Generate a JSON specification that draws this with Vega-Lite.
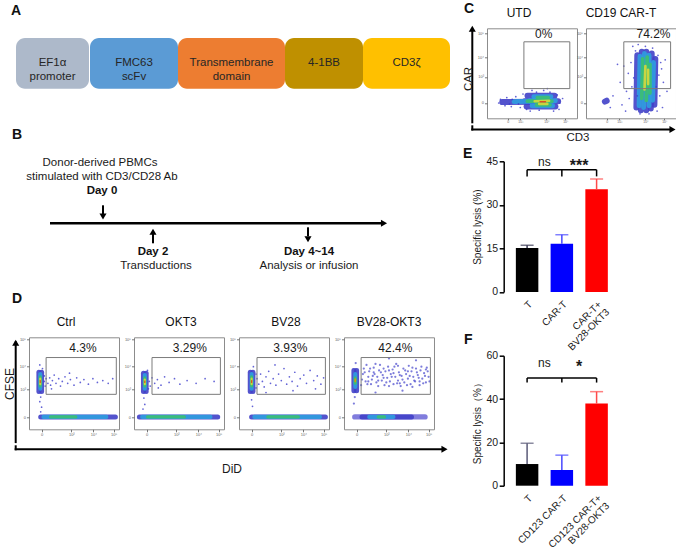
{
"$schema": "https://vega.github.io/schema/vega-lite/v6.json",
"padding": {"left": 0, "top": 1.3, "right": 0, "bottom": 0},
"background": "white",
"config": {"font": "Liberation Sans", "view": {"stroke": null}, "axis": {"grid": false}, "title": {"font": "Liberation Sans", "color": "#111"}},
"datasets": {
"construct": [
{"segment": "EF1α", "label": "EF1α\npromoter", "start": 0, "end": 73, "track": "CAR"},
{"segment": "FMC63", "label": "FMC63\nscFv", "start": 74, "end": 162, "track": "CAR"},
{"segment": "TM", "label": "Transmembrane\ndomain", "start": 162, "end": 269, "track": "CAR"},
{"segment": "4-1BB", "label": "4-1BB", "start": 269, "end": 347, "track": "CAR"},
{"segment": "CD3ζ", "label": "CD3ζ", "start": 347, "end": 434, "track": "CAR"}
],
"tltext": [
{"t": "Donor-derived PBMCs", "x": 100, "y": 15, "b": 0},
{"t": "stimulated with CD3/CD28 Ab", "x": 102, "y": 28.4, "b": 0},
{"t": "Day 0", "x": 102, "y": 42.7, "b": 1},
{"t": "Day 2", "x": 153, "y": 103.4, "b": 1},
{"t": "Transductions", "x": 156, "y": 117.7, "b": 0},
{"t": "Day 4~14", "x": 309, "y": 103.4, "b": 1},
{"t": "Analysis or infusion", "x": 309, "y": 117.7, "b": 0}
],
"seg": [
{"p":"Ctrl","x":13,"y":13.5,"x2":96,"y2":13.5,"d":1},
{"p":"Ctrl","x":16,"y":13.5,"x2":86,"y2":13.5,"d":2},
{"p":"Ctrl","x":24,"y":13.5,"x2":52,"y2":13.5,"d":3},
{"p":"Ctrl","x":11,"y":41,"x2":11,"y2":62,"d":1},
{"p":"Ctrl","x":14,"y":41,"x2":14,"y2":62,"d":1},
{"p":"Ctrl","x":12.5,"y":44,"x2":12.5,"y2":60,"d":2},
{"p":"Ctrl","x":12.5,"y":47,"x2":12.5,"y2":57,"d":3},
{"p":"Ctrl","x":12.5,"y":49,"x2":12.5,"y2":55,"d":4},
{"p":"Ctrl","x":12.5,"y":51,"x2":12.5,"y2":53,"d":5},
{"p":"OKT3","x":6,"y":13.5,"x2":93,"y2":13.5,"d":1},
{"p":"OKT3","x":9,"y":13.5,"x2":85,"y2":13.5,"d":2},
{"p":"OKT3","x":15,"y":13.5,"x2":56,"y2":13.5,"d":3},
{"p":"OKT3","x":10.5,"y":41,"x2":10.5,"y2":61,"d":1},
{"p":"OKT3","x":13.5,"y":41,"x2":13.5,"y2":61,"d":1},
{"p":"OKT3","x":12,"y":44,"x2":12,"y2":59,"d":2},
{"p":"OKT3","x":12,"y":47,"x2":12,"y2":56,"d":3},
{"p":"OKT3","x":12,"y":49,"x2":12,"y2":54,"d":4},
{"p":"OKT3","x":12,"y":51,"x2":12,"y2":52.5,"d":5},
{"p":"BV28","x":14,"y":13.5,"x2":96,"y2":13.5,"d":1},
{"p":"BV28","x":17,"y":13.5,"x2":90,"y2":13.5,"d":2},
{"p":"BV28","x":32,"y":13.5,"x2":66,"y2":13.5,"d":3},
{"p":"BV28","x":12.5,"y":41,"x2":12.5,"y2":62,"d":1},
{"p":"BV28","x":15.5,"y":41,"x2":15.5,"y2":62,"d":1},
{"p":"BV28","x":14,"y":44,"x2":14,"y2":60,"d":2},
{"p":"BV28","x":14,"y":47,"x2":14,"y2":57,"d":3},
{"p":"BV28","x":14,"y":49,"x2":14,"y2":55,"d":4},
{"p":"BV28","x":14,"y":51,"x2":14,"y2":53,"d":5},
{"p":"BVO","x":12,"y":13.5,"x2":90,"y2":13.5,"d":0.6},
{"p":"BVO","x":20,"y":13.5,"x2":75,"y2":13.5,"d":1},
{"p":"BVO","x":28,"y":13.5,"x2":55,"y2":13.5,"d":2},
{"p":"BVO","x":38,"y":13.5,"x2":45,"y2":13.5,"d":3},
{"p":"BVO","x":11,"y":42,"x2":11,"y2":64,"d":1},
{"p":"BVO","x":14,"y":42,"x2":14,"y2":64,"d":1},
{"p":"BVO","x":12.5,"y":46,"x2":12.5,"y2":60,"d":2},
{"p":"BVO","x":12.5,"y":50,"x2":12.5,"y2":56,"d":3},
{"p":"BVO","x":12.5,"y":52,"x2":12.5,"y2":54.5,"d":4.5},
{"p":"UTD","x":17,"y":18,"x2":50,"y2":18.5,"d":1},
{"p":"UTD","x":44,"y":13,"x2":76,"y2":13,"d":1},
{"p":"UTD","x":42,"y":19,"x2":79,"y2":19,"d":1},
{"p":"UTD","x":45,"y":25,"x2":75,"y2":25,"d":1},
{"p":"UTD","x":30,"y":18.5,"x2":48,"y2":19,"d":2},
{"p":"UTD","x":50,"y":14,"x2":73,"y2":14,"d":2},
{"p":"UTD","x":47,"y":19.5,"x2":76,"y2":19.5,"d":2},
{"p":"UTD","x":52,"y":24,"x2":71,"y2":24,"d":2},
{"p":"UTD","x":45,"y":19,"x2":72,"y2":19,"d":3},
{"p":"UTD","x":55,"y":15,"x2":70,"y2":15,"d":3},
{"p":"UTD","x":56,"y":23,"x2":68,"y2":23,"d":3},
{"p":"UTD","x":53,"y":19,"x2":69,"y2":19.5,"d":4},
{"p":"UTD","x":58,"y":16,"x2":67,"y2":16,"d":4},
{"p":"UTD","x":59,"y":18.5,"x2":65,"y2":18.5,"d":5},
{"p":"CD19","x":21,"y":18.5,"x2":23,"y2":19.5,"d":1},
{"p":"CD19","x":56,"y":12,"x2":57,"y2":70,"d":1},
{"p":"CD19","x":61,"y":9,"x2":62,"y2":74,"d":1},
{"p":"CD19","x":67,"y":9,"x2":67,"y2":74,"d":1},
{"p":"CD19","x":72,"y":11,"x2":73,"y2":72,"d":1},
{"p":"CD19","x":76,"y":15,"x2":77,"y2":66,"d":1},
{"p":"CD19","x":59,"y":14,"x2":60,"y2":69,"d":2},
{"p":"CD19","x":64,"y":12,"x2":65,"y2":72,"d":2},
{"p":"CD19","x":70,"y":14,"x2":70,"y2":70,"d":2},
{"p":"CD19","x":74,"y":20,"x2":75,"y2":62,"d":2},
{"p":"CD19","x":62,"y":22,"x2":63,"y2":66,"d":3},
{"p":"CD19","x":67,"y":20,"x2":68,"y2":68,"d":3},
{"p":"CD19","x":71,"y":28,"x2":71,"y2":60,"d":3},
{"p":"CD19","x":65,"y":32,"x2":66,"y2":58,"d":4},
{"p":"CD19","x":69,"y":38,"x2":69,"y2":54,"d":4}
],
"pts": [
{"p":"Ctrl","x":17,"y":52},{"p":"Ctrl","x":18,"y":47},{"p":"Ctrl","x":17,"y":58},{"p":"Ctrl","x":19,"y":55},{"p":"Ctrl","x":21,"y":50},{"p":"Ctrl","x":23,"y":56},{"p":"Ctrl","x":24,"y":48},{"p":"Ctrl","x":26,"y":53},{"p":"Ctrl","x":28,"y":59},{"p":"Ctrl","x":30,"y":50},{"p":"Ctrl","x":33,"y":55},{"p":"Ctrl","x":35,"y":47},{"p":"Ctrl","x":37,"y":52},{"p":"Ctrl","x":40,"y":57},{"p":"Ctrl","x":43,"y":50},{"p":"Ctrl","x":46,"y":54},{"p":"Ctrl","x":50,"y":48},{"p":"Ctrl","x":53,"y":56},{"p":"Ctrl","x":57,"y":51},{"p":"Ctrl","x":61,"y":54},{"p":"Ctrl","x":66,"y":49},{"p":"Ctrl","x":71,"y":55},{"p":"Ctrl","x":76,"y":51},{"p":"Ctrl","x":82,"y":53},{"p":"Ctrl","x":88,"y":50},{"p":"Ctrl","x":93,"y":55},{"p":"Ctrl","x":13,"y":35},{"p":"Ctrl","x":12,"y":30},{"p":"Ctrl","x":14,"y":24},{"p":"Ctrl","x":13,"y":19},{"p":"Ctrl","x":15,"y":66},{"p":"Ctrl","x":12,"y":70},{"p":"Ctrl","x":25,"y":44},{"p":"Ctrl","x":45,"y":61},
{"p":"OKT3","x":17,"y":52},{"p":"OKT3","x":18,"y":47},{"p":"OKT3","x":20,"y":56},{"p":"OKT3","x":23,"y":50},{"p":"OKT3","x":26,"y":54},{"p":"OKT3","x":30,"y":48},{"p":"OKT3","x":34,"y":57},{"p":"OKT3","x":39,"y":51},{"p":"OKT3","x":45,"y":55},{"p":"OKT3","x":51,"y":49},{"p":"OKT3","x":59,"y":53},{"p":"OKT3","x":69,"y":50},{"p":"OKT3","x":79,"y":55},{"p":"OKT3","x":89,"y":52},{"p":"OKT3","x":11,"y":34},{"p":"OKT3","x":12,"y":27},{"p":"OKT3","x":10,"y":22},{"p":"OKT3","x":15,"y":64},{"p":"OKT3","x":27,"y":45},{"p":"OKT3","x":16,"y":44},
{"p":"BV28","x":20,"y":55},{"p":"BV28","x":22,"y":49},{"p":"BV28","x":24,"y":60},{"p":"BV28","x":26,"y":52},{"p":"BV28","x":28,"y":46},{"p":"BV28","x":30,"y":57},{"p":"BV28","x":33,"y":63},{"p":"BV28","x":35,"y":50},{"p":"BV28","x":38,"y":55},{"p":"BV28","x":41,"y":48},{"p":"BV28","x":44,"y":60},{"p":"BV28","x":47,"y":53},{"p":"BV28","x":50,"y":66},{"p":"BV28","x":53,"y":49},{"p":"BV28","x":56,"y":57},{"p":"BV28","x":59,"y":52},{"p":"BV28","x":62,"y":62},{"p":"BV28","x":65,"y":47},{"p":"BV28","x":68,"y":55},{"p":"BV28","x":72,"y":59},{"p":"BV28","x":75,"y":50},{"p":"BV28","x":79,"y":64},{"p":"BV28","x":83,"y":53},{"p":"BV28","x":87,"y":58},{"p":"BV28","x":91,"y":49},{"p":"BV28","x":94,"y":56},{"p":"BV28","x":19,"y":45},{"p":"BV28","x":19,"y":60},{"p":"BV28","x":14,"y":32},{"p":"BV28","x":15,"y":25},{"p":"BV28","x":16,"y":68},{"p":"BV28","x":40,"y":70},{"p":"BV28","x":60,"y":42},{"p":"BV28","x":85,"y":44},{"p":"BV28","x":30,"y":40},
{"p":"BVO","x":19,"y":48},{"p":"BVO","x":21,"y":60},{"p":"BVO","x":22,"y":66},{"p":"BVO","x":24,"y":52},{"p":"BVO","x":25,"y":70},{"p":"BVO","x":27,"y":57},{"p":"BVO","x":28,"y":63},{"p":"BVO","x":30,"y":49},{"p":"BVO","x":31,"y":54},{"p":"BVO","x":33,"y":67},{"p":"BVO","x":34,"y":60},{"p":"BVO","x":36,"y":51},{"p":"BVO","x":37,"y":57},{"p":"BVO","x":39,"y":64},{"p":"BVO","x":40,"y":70},{"p":"BVO","x":42,"y":53},{"p":"BVO","x":43,"y":59},{"p":"BVO","x":45,"y":48},{"p":"BVO","x":46,"y":63},{"p":"BVO","x":48,"y":56},{"p":"BVO","x":49,"y":68},{"p":"BVO","x":51,"y":52},{"p":"BVO","x":52,"y":60},{"p":"BVO","x":54,"y":65},{"p":"BVO","x":55,"y":49},{"p":"BVO","x":57,"y":57},{"p":"BVO","x":58,"y":71},{"p":"BVO","x":60,"y":53},{"p":"BVO","x":61,"y":62},{"p":"BVO","x":63,"y":47},{"p":"BVO","x":64,"y":58},{"p":"BVO","x":66,"y":66},{"p":"BVO","x":67,"y":51},{"p":"BVO","x":69,"y":60},{"p":"BVO","x":71,"y":55},{"p":"BVO","x":72,"y":69},{"p":"BVO","x":74,"y":49},{"p":"BVO","x":75,"y":63},{"p":"BVO","x":77,"y":57},{"p":"BVO","x":79,"y":52},{"p":"BVO","x":80,"y":66},{"p":"BVO","x":82,"y":59},{"p":"BVO","x":84,"y":48},{"p":"BVO","x":85,"y":64},{"p":"BVO","x":87,"y":55},{"p":"BVO","x":89,"y":61},{"p":"BVO","x":91,"y":51},{"p":"BVO","x":92,"y":67},{"p":"BVO","x":94,"y":57},{"p":"BVO","x":12,"y":35},{"p":"BVO","x":11,"y":28},{"p":"BVO","x":13,"y":72},{"p":"BVO","x":35,"y":40},{"p":"BVO","x":65,"y":42},{"p":"BVO","x":50,"y":77},{"p":"BVO","x":80,"y":75},
{"p":"BVO","x":20,"y":54},{"p":"BVO","x":23,"y":62},{"p":"BVO","x":26,"y":49},{"p":"BVO","x":29,"y":66},{"p":"BVO","x":32,"y":58},{"p":"BVO","x":35,"y":71},{"p":"BVO","x":38,"y":53},{"p":"BVO","x":41,"y":62},{"p":"BVO","x":44,"y":56},{"p":"BVO","x":47,"y":51},{"p":"BVO","x":50,"y":64},{"p":"BVO","x":53,"y":57},{"p":"BVO","x":56,"y":68},{"p":"BVO","x":59,"y":50},{"p":"BVO","x":62,"y":59},{"p":"BVO","x":65,"y":54},{"p":"BVO","x":68,"y":64},{"p":"BVO","x":70,"y":48},{"p":"BVO","x":73,"y":58},{"p":"BVO","x":76,"y":67},{"p":"BVO","x":78,"y":53},{"p":"BVO","x":81,"y":62},{"p":"BVO","x":83,"y":56},{"p":"BVO","x":86,"y":68},{"p":"BVO","x":88,"y":50},{"p":"BVO","x":90,"y":58},{"p":"BVO","x":93,"y":63},{"p":"BVO","x":95,"y":52},{"p":"BVO","x":27,"y":52},{"p":"BVO","x":33,"y":62},{"p":"BVO","x":44,"y":66},{"p":"BVO","x":55,"y":61},{"p":"BVO","x":62,"y":50},{"p":"BVO","x":71,"y":63},{"p":"BVO","x":84,"y":52},{"p":"BVO","x":91,"y":65},{"p":"BVO","x":38,"y":47},{"p":"BVO","x":50,"y":47},{"p":"BVO","x":76,"y":46},{"p":"BVO","x":60,"y":69},
{"p":"UTD","x":13,"y":17},{"p":"UTD","x":15,"y":21},{"p":"UTD","x":20,"y":14},{"p":"UTD","x":22,"y":23},{"p":"UTD","x":27,"y":13},{"p":"UTD","x":32,"y":24},{"p":"UTD","x":37,"y":12},{"p":"UTD","x":40,"y":27},{"p":"UTD","x":48,"y":8},{"p":"UTD","x":55,"y":29},{"p":"UTD","x":63,"y":31},{"p":"UTD","x":70,"y":29},{"p":"UTD","x":78,"y":26},{"p":"UTD","x":81,"y":17},{"p":"UTD","x":80,"y":10},{"p":"UTD","x":74,"y":8},{"p":"UTD","x":35,"y":16},{"p":"UTD","x":44,"y":10},{"p":"UTD","x":58,"y":9},{"p":"UTD","x":84,"y":22},{"p":"UTD","x":67,"y":33},{"p":"UTD","x":50,"y":31},{"p":"UTD","x":28,"y":21},{"p":"UTD","x":25,"y":16},
{"p":"CD19","x":40,"y":15},{"p":"CD19","x":45,"y":30},{"p":"CD19","x":47,"y":50},{"p":"CD19","x":50,"y":62},{"p":"CD19","x":48,"y":22},{"p":"CD19","x":52,"y":80},{"p":"CD19","x":58,"y":82},{"p":"CD19","x":66,"y":80},{"p":"CD19","x":74,"y":78},{"p":"CD19","x":80,"y":70},{"p":"CD19","x":84,"y":55},{"p":"CD19","x":86,"y":40},{"p":"CD19","x":82,"y":25},{"p":"CD19","x":85,"y":12},{"p":"CD19","x":79,"y":8},{"p":"CD19","x":70,"y":5},{"p":"CD19","x":60,"y":5},{"p":"CD19","x":44,"y":8},{"p":"CD19","x":38,"y":40},{"p":"CD19","x":35,"y":60},{"p":"CD19","x":30,"y":25},{"p":"CD19","x":27,"y":12},{"p":"CD19","x":90,"y":30},{"p":"CD19","x":88,"y":65},{"p":"CD19","x":53,"y":45},{"p":"CD19","x":81,"y":48},{"p":"CD19","x":51,"y":35},{"p":"CD19","x":55,"y":75},{"p":"CD19","x":78,"y":35},{"p":"CD19","x":83,"y":62},{"p":"CD19","x":42,"y":58},{"p":"CD19","x":57,"y":25}
],
"gate": [
{"p":"Ctrl","x":19,"x2":97,"y":38,"y2":78},{"p":"OKT3","x":20,"x2":96,"y":38,"y2":78},{"p":"BV28","x":20,"x2":96,"y":38,"y2":78},{"p":"BVO","x":19,"x2":96,"y":38,"y2":78},{"p":"UTD","x":41,"x2":92,"y":33,"y2":85},{"p":"CD19","x":42,"x2":94,"y":33,"y2":85}
],
"lab": [
{"p":"Ctrl","x":60,"y":88,"t":"4.3%"},{"p":"OKT3","x":62,"y":88,"t":"3.29%"},{"p":"BV28","x":57,"y":88,"t":"3.93%"},{"p":"BVO","x":57,"y":88,"t":"42.4%"},{"p":"UTD","x":63,"y":94,"t":"0%"},{"p":"CD19","x":75,"y":94,"t":"74.2%"}
],
"ebar": [{"g":"T","v":15.1},{"g":"CAR-T","v":16.6},{"g":"CAR-T+|BV28-OKT3","v":35.4}],
"eerr": [{"g":"T","lo":15.1,"v":16.1},{"g":"CAR-T","lo":16.6,"v":19.7},{"g":"CAR-T+|BV28-OKT3","lo":35.4,"v":38.9}],
"ebrh": [{"g":"T","g2":"CAR-T+|BV28-OKT3","v":42.1}],
"ebrv": [{"g":"T","v":42.1,"v2":39.8},{"g":"CAR-T","v":42.1,"v2":39.8},{"g":"CAR-T+|BV28-OKT3","v":42.1,"v2":39.8}],
"esig": [{"g":"T","v":44.8,"t":"ns"},{"g":"CAR-T","v":43.3,"t":"***"}],
"fbar": [{"g":"T","v":10.0},{"g":"CD123 CAR-T","v":7.2},{"g":"CD123 CAR-T+|BV28-OKT3","v":37.9}],
"ferr": [{"g":"T","lo":10.0,"v":19.6},{"g":"CD123 CAR-T","lo":7.2,"v":14.1},{"g":"CD123 CAR-T+|BV28-OKT3","lo":37.9,"v":43.4}],
"fbrh": [{"g":"T","g2":"CD123 CAR-T+|BV28-OKT3","v":49.7}],
"fbrv": [{"g":"T","v":49.7,"v2":47.6},{"g":"CD123 CAR-T","v":49.7,"v2":47.6},{"g":"CD123 CAR-T+|BV28-OKT3","v":49.7,"v2":47.6}],
"fsig": [{"g":"T","v":56.5,"t":"ns"},{"g":"CD123 CAR-T","v":55,"t":"*"}]
},
"hconcat": [
{
"vconcat": [
{
"width": 455, "height": 70,
"title": {"text": "A", "anchor": "start", "frame": "group", "dx": 11, "offset": 10.35, "fontSize": 14, "fontWeight": "bold"},
"data": {"name": "construct"},
"encoding": {
"y": {"field": "track", "type": "nominal", "scale": {"paddingInner": 0, "paddingOuter": 0.19}, "axis": null}
},
"layer": [
{"mark": {"type": "rect", "cornerRadius": 9},
"encoding": {
"x": {"field": "start", "type": "quantitative", "scale": {"domain": [-16, 439], "nice": false, "zero": false}, "axis": null},
"x2": {"field": "end"},
"color": {"field": "segment", "type": "nominal", "scale": {"domain": ["EF1α", "FMC63", "TM", "4-1BB", "CD3ζ"], "range": ["#ADB9CA", "#5B9BD5", "#ED7D31", "#BF9000", "#FFC000"]}, "legend": null}
}},
{"transform": [{"calculate": "(datum.start + datum.end) / 2", "as": "mid"}],
"mark": {"type": "text", "fontSize": 11.5, "lineBreak": "\n", "lineHeight": 13.5, "color": "#262626", "baseline": "middle"},
"encoding": {
"x": {"field": "mid", "type": "quantitative"},
"text": {"field": "label"}
}}
]
},
{
"vconcat": [
{
"width": 400, "height": 124,
"title": {"text": "B", "anchor": "start", "frame": "group", "dx": 12, "offset": 6.35, "fontSize": 14, "fontWeight": "bold"},
"encoding": {
"x": {"field": "x", "type": "quantitative", "scale": {"domain": [0, 400], "nice": false, "zero": false}, "axis": null},
"y": {"field": "y", "type": "quantitative", "scale": {"domain": [0, 124], "nice": false, "zero": false, "reverse": true}, "axis": null}
},
"layer": [
{"data": {"values": [{"x": 50, "x2": 383, "y": 75}]}, "mark": {"type": "rule", "strokeWidth": 2.6, "color": "#000"}, "encoding": {"x2": {"field": "x2"}}},
{"data": {"values": [{"x": 103, "y": 57, "y2": 66}, {"x": 153, "y": 85, "y2": 95}, {"x": 308, "y": 79, "y2": 88}]}, "mark": {"type": "rule", "strokeWidth": 2, "color": "#000"}, "encoding": {"y2": {"field": "y2"}}},
{"data": {"values": [{"x": 384, "y": 75, "dir": "right"}, {"x": 103, "y": 68.2, "dir": "down"}, {"x": 153, "y": 83.4, "dir": "up"}, {"x": 308, "y": 91, "dir": "down"}]},
"mark": {"type": "point", "filled": true, "size": 50, "color": "#000", "opacity": 1},
"encoding": {"shape": {"field": "dir", "type": "nominal", "scale": {"domain": ["right", "down", "up"], "range": ["triangle-right", "triangle-down", "triangle-up"]}, "legend": null}}},
{"data": {"name": "tltext"}, "transform": [{"filter": "datum.b == 0"}], "mark": {"type": "text", "fontSize": 11.5, "color": "#1a1a1a", "baseline": "middle"}, "encoding": {"text": {"field": "t"}}},
{"data": {"name": "tltext"}, "transform": [{"filter": "datum.b == 1"}], "mark": {"type": "text", "fontSize": 11.5, "fontWeight": "bold", "color": "#111", "baseline": "middle"}, "encoding": {"text": {"field": "t"}}}
]
},
{
"vconcat": [
{
"hconcat": [
{
"width": 14, "height": 104.8,
"title": {"text": "D", "anchor": "start", "frame": "group", "dx": 12, "offset": 30.85, "fontSize": 14, "fontWeight": "bold"},
"encoding": {
"x": {"field": "x", "type": "quantitative", "scale": {"domain": [0, 14], "nice": false, "zero": false}, "axis": null},
"y": {"field": "y", "type": "quantitative", "scale": {"domain": [0, 104.8], "nice": false, "zero": false, "reverse": true}, "axis": null}
},
"layer": [
{"data": {"values": [{"x": 15.7, "y": 5, "y2": 104.8}]}, "mark": {"type": "rule", "strokeWidth": 2, "strokeCap": "square", "color": "#000"}, "encoding": {"y2": {"field": "y2"}}},
{"data": {"values": [{"x": 15.7, "y": 5.5}]}, "mark": {"type": "point", "shape": "triangle-up", "filled": true, "size": 50, "color": "#000", "opacity": 1}},
{"data": {"values": [{"x": 9.5, "y": 46.7, "t": "CFSE"}]}, "mark": {"type": "text", "angle": 270, "fontSize": 12, "color": "#1a1a1a", "baseline": "middle"}, "encoding": {"text": {"field": "t"}}}
]
},
{
"width": 90, "height": 92,
"title": {"text": "Ctrl", "fontSize": 12, "fontWeight": "normal", "offset": 8, "dx": -8},
"view": {"stroke": "#8c8c8c", "strokeWidth": 1},
"encoding": {
"x": {"field": "x", "type": "quantitative", "scale": {"domain": [0, 100], "nice": false, "zero": false}, "axis": {"values": [14, 47, 71.5, 94], "title": null, "domain": false, "tickSize": 2.5, "tickColor": "#555", "tickWidth": 0.8, "labelFontSize": 4, "labelColor": "#666", "labelPadding": 1, "labelOverlap": false, "labelFlush": false, "labelExpr": "datum.value < 20 ? '0' : datum.value < 60 ? '10³' : datum.value < 80 ? '10⁴' : '10⁵'"}},
"y": {"field": "y", "type": "quantitative", "scale": {"domain": [0, 100], "nice": false, "zero": false}, "axis": {"values": [13, 43.5, 68, 98], "title": null, "domain": false, "tickSize": 2.5, "tickColor": "#555", "tickWidth": 0.8, "labelFontSize": 4, "labelColor": "#666", "labelPadding": 1, "labelOverlap": false, "labelFlush": false, "labelExpr": "datum.value < 20 ? '0' : datum.value < 55 ? '10³' : datum.value < 80 ? '10⁴' : '10⁵'"}}
},
"layer": [
{"data": {"name": "seg"}, "transform": [{"filter": "datum.p == 'Ctrl'"}], "mark": {"type": "rule", "strokeCap": "round", "opacity": 0.9}, "encoding": {"x2": {"field": "x2"}, "y2": {"field": "y2"}, "color": {"field": "d", "type": "quantitative", "scale": {"domain": [0, 1, 2, 3, 4, 5], "range": ["#b8b8ee", "#4040c8", "#2f9fe0", "#3cc070", "#d8d838", "#e04020"]}, "legend": null}, "size": {"field": "d", "type": "quantitative", "scale": {"domain": [1, 5], "range": [5, 1.2]}, "legend": null}}},
{"data": {"name": "pts"}, "transform": [{"filter": "datum.p == 'Ctrl'"}], "mark": {"type": "circle", "size": 3, "color": "#3d3dcc", "opacity": 0.8}},
{"data": {"name": "gate"}, "transform": [{"filter": "datum.p == 'Ctrl'"}], "mark": {"type": "rect", "fillOpacity": 0, "stroke": "#7a7a7a", "strokeWidth": 1}, "encoding": {"x2": {"field": "x2"}, "y2": {"field": "y2"}}},
{"data": {"name": "lab"}, "transform": [{"filter": "datum.p == 'Ctrl'"}], "mark": {"type": "text", "fontSize": 12, "color": "#1a1a1a", "baseline": "middle"}, "encoding": {"text": {"field": "t"}}}
]
},
{
"width": 90, "height": 92,
"title": {"text": "OKT3", "fontSize": 12, "fontWeight": "normal", "offset": 8, "dx": 2},
"view": {"stroke": "#8c8c8c", "strokeWidth": 1},
"encoding": {
"x": {"field": "x", "type": "quantitative", "scale": {"domain": [0, 100], "nice": false, "zero": false}, "axis": {"values": [14, 47, 71.5, 94], "title": null, "domain": false, "tickSize": 2.5, "tickColor": "#555", "tickWidth": 0.8, "labelFontSize": 4, "labelColor": "#666", "labelPadding": 1, "labelOverlap": false, "labelFlush": false, "labelExpr": "datum.value < 20 ? '0' : datum.value < 60 ? '10³' : datum.value < 80 ? '10⁴' : '10⁵'"}},
"y": {"field": "y", "type": "quantitative", "scale": {"domain": [0, 100], "nice": false, "zero": false}, "axis": {"values": [13, 43.5, 68, 98], "title": null, "domain": false, "tickSize": 2.5, "tickColor": "#555", "tickWidth": 0.8, "labelFontSize": 4, "labelColor": "#666", "labelPadding": 1, "labelOverlap": false, "labelFlush": false, "labelExpr": "datum.value < 20 ? '0' : datum.value < 55 ? '10³' : datum.value < 80 ? '10⁴' : '10⁵'"}}
},
"layer": [
{"data": {"name": "seg"}, "transform": [{"filter": "datum.p == 'OKT3'"}], "mark": {"type": "rule", "strokeCap": "round", "opacity": 0.9}, "encoding": {"x2": {"field": "x2"}, "y2": {"field": "y2"}, "color": {"field": "d", "type": "quantitative", "scale": {"domain": [0, 1, 2, 3, 4, 5], "range": ["#b8b8ee", "#4040c8", "#2f9fe0", "#3cc070", "#d8d838", "#e04020"]}, "legend": null}, "size": {"field": "d", "type": "quantitative", "scale": {"domain": [1, 5], "range": [5, 1.2]}, "legend": null}}},
{"data": {"name": "pts"}, "transform": [{"filter": "datum.p == 'OKT3'"}], "mark": {"type": "circle", "size": 3, "color": "#3d3dcc", "opacity": 0.8}},
{"data": {"name": "gate"}, "transform": [{"filter": "datum.p == 'OKT3'"}], "mark": {"type": "rect", "fillOpacity": 0, "stroke": "#7a7a7a", "strokeWidth": 1}, "encoding": {"x2": {"field": "x2"}, "y2": {"field": "y2"}}},
{"data": {"name": "lab"}, "transform": [{"filter": "datum.p == 'OKT3'"}], "mark": {"type": "text", "fontSize": 12, "color": "#1a1a1a", "baseline": "middle"}, "encoding": {"text": {"field": "t"}}}
]
},
{
"width": 90, "height": 92,
"title": {"text": "BV28", "fontSize": 12, "fontWeight": "normal", "offset": 8, "dx": 2},
"view": {"stroke": "#8c8c8c", "strokeWidth": 1},
"encoding": {
"x": {"field": "x", "type": "quantitative", "scale": {"domain": [0, 100], "nice": false, "zero": false}, "axis": {"values": [14, 47, 71.5, 94], "title": null, "domain": false, "tickSize": 2.5, "tickColor": "#555", "tickWidth": 0.8, "labelFontSize": 4, "labelColor": "#666", "labelPadding": 1, "labelOverlap": false, "labelFlush": false, "labelExpr": "datum.value < 20 ? '0' : datum.value < 60 ? '10³' : datum.value < 80 ? '10⁴' : '10⁵'"}},
"y": {"field": "y", "type": "quantitative", "scale": {"domain": [0, 100], "nice": false, "zero": false}, "axis": {"values": [13, 43.5, 68, 98], "title": null, "domain": false, "tickSize": 2.5, "tickColor": "#555", "tickWidth": 0.8, "labelFontSize": 4, "labelColor": "#666", "labelPadding": 1, "labelOverlap": false, "labelFlush": false, "labelExpr": "datum.value < 20 ? '0' : datum.value < 55 ? '10³' : datum.value < 80 ? '10⁴' : '10⁵'"}}
},
"layer": [
{"data": {"name": "seg"}, "transform": [{"filter": "datum.p == 'BV28'"}], "mark": {"type": "rule", "strokeCap": "round", "opacity": 0.9}, "encoding": {"x2": {"field": "x2"}, "y2": {"field": "y2"}, "color": {"field": "d", "type": "quantitative", "scale": {"domain": [0, 1, 2, 3, 4, 5], "range": ["#b8b8ee", "#4040c8", "#2f9fe0", "#3cc070", "#d8d838", "#e04020"]}, "legend": null}, "size": {"field": "d", "type": "quantitative", "scale": {"domain": [1, 5], "range": [5, 1.2]}, "legend": null}}},
{"data": {"name": "pts"}, "transform": [{"filter": "datum.p == 'BV28'"}], "mark": {"type": "circle", "size": 3, "color": "#3d3dcc", "opacity": 0.8}},
{"data": {"name": "gate"}, "transform": [{"filter": "datum.p == 'BV28'"}], "mark": {"type": "rect", "fillOpacity": 0, "stroke": "#7a7a7a", "strokeWidth": 1}, "encoding": {"x2": {"field": "x2"}, "y2": {"field": "y2"}}},
{"data": {"name": "lab"}, "transform": [{"filter": "datum.p == 'BV28'"}], "mark": {"type": "text", "fontSize": 12, "color": "#1a1a1a", "baseline": "middle"}, "encoding": {"text": {"field": "t"}}}
]
},
{
"width": 90, "height": 92,
"title": {"text": "BV28-OKT3", "fontSize": 12, "fontWeight": "normal", "offset": 8, "dx": 0},
"view": {"stroke": "#8c8c8c", "strokeWidth": 1},
"encoding": {
"x": {"field": "x", "type": "quantitative", "scale": {"domain": [0, 100], "nice": false, "zero": false}, "axis": {"values": [14, 47, 71.5, 94], "title": null, "domain": false, "tickSize": 2.5, "tickColor": "#555", "tickWidth": 0.8, "labelFontSize": 4, "labelColor": "#666", "labelPadding": 1, "labelOverlap": false, "labelFlush": false, "labelExpr": "datum.value < 20 ? '0' : datum.value < 60 ? '10³' : datum.value < 80 ? '10⁴' : '10⁵'"}},
"y": {"field": "y", "type": "quantitative", "scale": {"domain": [0, 100], "nice": false, "zero": false}, "axis": {"values": [13, 43.5, 68, 98], "title": null, "domain": false, "tickSize": 2.5, "tickColor": "#555", "tickWidth": 0.8, "labelFontSize": 4, "labelColor": "#666", "labelPadding": 1, "labelOverlap": false, "labelFlush": false, "labelExpr": "datum.value < 20 ? '0' : datum.value < 55 ? '10³' : datum.value < 80 ? '10⁴' : '10⁵'"}}
},
"layer": [
{"data": {"name": "seg"}, "transform": [{"filter": "datum.p == 'BVO'"}], "mark": {"type": "rule", "strokeCap": "round", "opacity": 0.9}, "encoding": {"x2": {"field": "x2"}, "y2": {"field": "y2"}, "color": {"field": "d", "type": "quantitative", "scale": {"domain": [0, 1, 2, 3, 4, 5], "range": ["#b8b8ee", "#4040c8", "#2f9fe0", "#3cc070", "#d8d838", "#e04020"]}, "legend": null}, "size": {"field": "d", "type": "quantitative", "scale": {"domain": [1, 5], "range": [5, 1.2]}, "legend": null}}},
{"data": {"name": "pts"}, "transform": [{"filter": "datum.p == 'BVO'"}], "mark": {"type": "circle", "size": 5, "color": "#4646cc", "opacity": 0.7}},
{"data": {"name": "gate"}, "transform": [{"filter": "datum.p == 'BVO'"}], "mark": {"type": "rect", "fillOpacity": 0, "stroke": "#7a7a7a", "strokeWidth": 1}, "encoding": {"x2": {"field": "x2"}, "y2": {"field": "y2"}}},
{"data": {"name": "lab"}, "transform": [{"filter": "datum.p == 'BVO'"}], "mark": {"type": "text", "fontSize": 12, "color": "#1a1a1a", "baseline": "middle"}, "encoding": {"text": {"field": "t"}}}
]
}
],
"spacing": 15, "bounds": "flush",
"resolve": {"scale": {"color": "independent", "size": "independent", "stroke": "independent", "fill": "independent", "shape": "independent"}}
},
{
"width": 455, "height": 35,
"encoding": {
"x": {"field": "x", "type": "quantitative", "scale": {"domain": [0, 455], "nice": false, "zero": false}, "axis": null},
"y": {"field": "y", "type": "quantitative", "scale": {"domain": [0, 35], "nice": false, "zero": false, "reverse": true}, "axis": null}
},
"layer": [
{"data": {"values": [{"x": 14.7, "x2": 444, "y": 4}]}, "mark": {"type": "rule", "strokeWidth": 2, "color": "#000"}, "encoding": {"x2": {"field": "x2"}}},
{"data": {"values": [{"x": 15.7, "y": 1, "y2": 4}]}, "mark": {"type": "rule", "strokeWidth": 2, "strokeCap": "square", "color": "#000"}, "encoding": {"y2": {"field": "y2"}}},
{"data": {"values": [{"x": 444.5, "y": 4}]}, "mark": {"type": "point", "shape": "triangle-right", "filled": true, "size": 50, "color": "#000", "opacity": 1}},
{"data": {"values": [{"x": 232, "y": 23.7, "t": "DiD"}]}, "mark": {"type": "text", "fontSize": 12, "color": "#1a1a1a", "baseline": "middle"}, "encoding": {"text": {"field": "t"}}}
]
}
],
"spacing": 0, "bounds": "full",
"resolve": {"scale": {"color": "independent", "size": "independent", "stroke": "independent", "fill": "independent", "shape": "independent"}}
}
],
"spacing": 20, "bounds": "full",
"resolve": {"scale": {"color": "independent", "size": "independent", "stroke": "independent", "fill": "independent", "shape": "independent"}}
}
],
"spacing": 29, "bounds": "full",
"resolve": {"scale": {"color": "independent", "size": "independent", "stroke": "independent", "fill": "independent", "shape": "independent"}}
},
{
"vconcat": [
{
"vconcat": [
{
"hconcat": [
{
"width": 15, "height": 94,
"title": {"text": "C", "anchor": "start", "frame": "group", "dx": 1, "offset": 9.9, "fontSize": 14, "fontWeight": "bold"},
"encoding": {
"x": {"field": "x", "type": "quantitative", "scale": {"domain": [0, 15], "nice": false, "zero": false}, "axis": null},
"y": {"field": "y", "type": "quantitative", "scale": {"domain": [0, 94], "nice": false, "zero": false, "reverse": true}, "axis": null}
},
"layer": [
{"data": {"values": [{"x": 9.3, "y": 2, "y2": 94}]}, "mark": {"type": "rule", "strokeWidth": 2, "strokeCap": "square", "color": "#000"}, "encoding": {"y2": {"field": "y2"}}},
{"data": {"values": [{"x": 9.3, "y": 0.4}]}, "mark": {"type": "point", "shape": "triangle-up", "filled": true, "size": 50, "color": "#000", "opacity": 1}},
{"data": {"values": [{"x": 5.8, "y": 50.7, "t": "CAR"}]}, "mark": {"type": "text", "angle": 270, "fontSize": 11.5, "color": "#1a1a1a", "baseline": "middle"}, "encoding": {"text": {"field": "t"}}}
]
},
{
"width": 90, "height": 90,
"title": {"text": "UTD", "fontSize": 12, "fontWeight": "normal", "offset": 7.6, "dx": -13},
"view": {"stroke": "#8c8c8c", "strokeWidth": 1},
"encoding": {
"x": {"field": "x", "type": "quantitative", "scale": {"domain": [0, 100], "nice": false, "zero": false}, "axis": {"values": [23, 37, 66, 87], "title": null, "domain": false, "tickSize": 1.5, "tickColor": "#555", "tickWidth": 0.8, "labelFontSize": 3.5, "labelColor": "#666", "labelPadding": 0, "labelOverlap": false, "labelFlush": false, "labelExpr": "datum.value < 30 ? '0' : datum.value < 50 ? '10³' : datum.value < 75 ? '10⁴' : '10⁵'"}},
"y": {"field": "y", "type": "quantitative", "scale": {"domain": [0, 100], "nice": false, "zero": false}, "axis": {"values": [17, 46, 68, 94], "title": null, "domain": false, "tickSize": 2.5, "tickColor": "#555", "tickWidth": 0.8, "labelFontSize": 4, "labelColor": "#666", "labelPadding": 1, "labelOverlap": false, "labelFlush": false, "labelExpr": "datum.value < 30 ? '0' : datum.value < 55 ? '10³' : datum.value < 80 ? '10⁴' : '10⁵'"}}
},
"layer": [
{"data": {"name": "seg"}, "transform": [{"filter": "datum.p == 'UTD'"}], "mark": {"type": "rule", "strokeCap": "round", "opacity": 0.9}, "encoding": {"x2": {"field": "x2"}, "y2": {"field": "y2"}, "color": {"field": "d", "type": "quantitative", "scale": {"domain": [0, 1, 2, 3, 4, 5], "range": ["#b8b8ee", "#4040c8", "#2f9fe0", "#3cc070", "#d8d838", "#e04020"]}, "legend": null}, "size": {"field": "d", "type": "quantitative", "scale": {"domain": [1, 5], "range": [6, 1.5]}, "legend": null}}},
{"data": {"name": "pts"}, "transform": [{"filter": "datum.p == 'UTD'"}], "mark": {"type": "circle", "size": 3, "color": "#3d3dcc", "opacity": 0.8}},
{"data": {"name": "gate"}, "transform": [{"filter": "datum.p == 'UTD'"}], "mark": {"type": "rect", "fillOpacity": 0, "stroke": "#7a7a7a", "strokeWidth": 1}, "encoding": {"x2": {"field": "x2"}, "y2": {"field": "y2"}}},
{"data": {"name": "lab"}, "transform": [{"filter": "datum.p == 'UTD'"}], "mark": {"type": "text", "fontSize": 12, "color": "#1a1a1a", "baseline": "middle"}, "encoding": {"text": {"field": "t"}}}
]
},
{
"width": 90, "height": 90,
"title": {"text": "CD19 CAR-T", "fontSize": 12, "fontWeight": "normal", "offset": 7.6, "dx": -10},
"view": {"stroke": "#8c8c8c", "strokeWidth": 1},
"encoding": {
"x": {"field": "x", "type": "quantitative", "scale": {"domain": [0, 100], "nice": false, "zero": false}, "axis": {"values": [23, 37, 66, 87], "title": null, "domain": false, "tickSize": 1.5, "tickColor": "#555", "tickWidth": 0.8, "labelFontSize": 3.5, "labelColor": "#666", "labelPadding": 0, "labelOverlap": false, "labelFlush": false, "labelExpr": "datum.value < 30 ? '0' : datum.value < 50 ? '10³' : datum.value < 75 ? '10⁴' : '10⁵'"}},
"y": {"field": "y", "type": "quantitative", "scale": {"domain": [0, 100], "nice": false, "zero": false}, "axis": {"values": [17, 46, 68, 94], "title": null, "domain": false, "tickSize": 2.5, "tickColor": "#555", "tickWidth": 0.8, "labelFontSize": 4, "labelColor": "#666", "labelPadding": 1, "labelOverlap": false, "labelFlush": false, "labelExpr": "datum.value < 30 ? '0' : datum.value < 55 ? '10³' : datum.value < 80 ? '10⁴' : '10⁵'"}}
},
"layer": [
{"data": {"name": "seg"}, "transform": [{"filter": "datum.p == 'CD19'"}], "mark": {"type": "rule", "strokeCap": "round", "opacity": 0.9}, "encoding": {"x2": {"field": "x2"}, "y2": {"field": "y2"}, "color": {"field": "d", "type": "quantitative", "scale": {"domain": [0, 1, 2, 3, 4, 5], "range": ["#b8b8ee", "#4040c8", "#2f9fe0", "#3cc070", "#d8d838", "#e04020"]}, "legend": null}, "size": {"field": "d", "type": "quantitative", "scale": {"domain": [1, 5], "range": [6, 1.5]}, "legend": null}}},
{"data": {"name": "pts"}, "transform": [{"filter": "datum.p == 'CD19'"}], "mark": {"type": "circle", "size": 3, "color": "#3d3dcc", "opacity": 0.8}},
{"data": {"name": "gate"}, "transform": [{"filter": "datum.p == 'CD19'"}], "mark": {"type": "rect", "fillOpacity": 0, "stroke": "#7a7a7a", "strokeWidth": 1}, "encoding": {"x2": {"field": "x2"}, "y2": {"field": "y2"}}},
{"data": {"name": "lab"}, "transform": [{"filter": "datum.p == 'CD19'"}], "mark": {"type": "text", "fontSize": 12, "color": "#1a1a1a", "baseline": "middle"}, "encoding": {"text": {"field": "t"}}}
]
}
],
"spacing": 9, "bounds": "flush",
"resolve": {"scale": {"color": "independent", "size": "independent", "stroke": "independent", "fill": "independent", "shape": "independent"}}
},
{
"width": 214, "height": 20.7,
"encoding": {
"x": {"field": "x", "type": "quantitative", "scale": {"domain": [0, 214], "nice": false, "zero": false}, "axis": null},
"y": {"field": "y", "type": "quantitative", "scale": {"domain": [0, 20.7], "nice": false, "zero": false, "reverse": true}, "axis": null}
},
"layer": [
{"data": {"values": [{"x": 8.3, "x2": 209, "y": 4.2}]}, "mark": {"type": "rule", "strokeWidth": 2, "color": "#000"}, "encoding": {"x2": {"field": "x2"}}},
{"data": {"values": [{"x": 9.3, "y": 1, "y2": 4.2}]}, "mark": {"type": "rule", "strokeWidth": 2, "strokeCap": "square", "color": "#000"}, "encoding": {"y2": {"field": "y2"}}},
{"data": {"values": [{"x": 209.5, "y": 4.2}]}, "mark": {"type": "point", "shape": "triangle-right", "filled": true, "size": 50, "color": "#000", "opacity": 1}},
{"data": {"values": [{"x": 115, "y": 12.7, "t": "CD3"}]}, "mark": {"type": "text", "fontSize": 11.5, "color": "#1a1a1a", "baseline": "middle"}, "encoding": {"text": {"field": "t"}}}
]
}
],
"spacing": 0, "bounds": "full",
"resolve": {"scale": {"color": "independent", "size": "independent", "stroke": "independent", "fill": "independent", "shape": "independent"}}
},
{
"vconcat": [
{
"width": 157, "height": 130.6,
"title": {"text": "E", "anchor": "start", "frame": "group", "dx": 0, "offset": -4.95, "fontSize": 14, "fontWeight": "bold"},
"encoding": {
"x": {"field": "g", "type": "nominal", "sort": null, "scale": {"domain": ["T", "CAR-T", "CAR-T+|BV28-OKT3"], "range": [40.7, 157], "paddingInner": 0.353, "paddingOuter": 0.35}, "axis": {"title": null, "labels": false, "domainColor": "#000", "domainWidth": 1.5, "tickColor": "#000", "tickWidth": 1.5, "tickSize": 5.5}},
"y": {"field": "v", "type": "quantitative", "scale": {"domain": [0, 45], "nice": false}, "axis": {"offset": -40.7, "title": "Specific lysis (%)", "values": [0, 15, 30, 45], "titleFontSize": 10, "titleFontWeight": "normal", "titleColor": "#1a1a1a", "titlePadding": 4, "labelFontSize": 10.5, "labelColor": "#1a1a1a", "labelPadding": 1.5, "domainColor": "#000", "domainWidth": 1.5, "tickColor": "#000", "tickWidth": 1.5, "tickSize": 4.5}}
},
"layer": [
{"data": {"name": "ebar"}, "mark": {"type": "bar"}, "encoding": {"color": {"field": "g", "type": "nominal", "scale": {"domain": ["T", "CAR-T", "CAR-T+|BV28-OKT3"], "range": ["#000000", "#0000ff", "#ff0000"]}, "legend": null}}},
{"data": {"name": "eerr"}, "mark": {"type": "rule", "strokeWidth": 1.5}, "encoding": {"y2": {"field": "lo"}, "stroke": {"field": "g", "type": "nominal", "scale": {"domain": ["T", "CAR-T", "CAR-T+|BV28-OKT3"], "range": ["#3a3a55", "#4848ff", "#ff4a4a"]}, "legend": null}}},
{"data": {"name": "eerr"}, "mark": {"type": "tick", "thickness": 1.5}, "encoding": {"size": {"value": 13}, "fill": {"field": "g", "type": "nominal", "scale": {"domain": ["T", "CAR-T", "CAR-T+|BV28-OKT3"], "range": ["#3a3a55", "#4848ff", "#ff4a4a"]}, "legend": null}}},
{"data": {"name": "ebrh"}, "mark": {"type": "rule", "strokeWidth": 1.5, "color": "#000"}, "encoding": {"x2": {"field": "g2"}}},
{"data": {"name": "ebrv"}, "mark": {"type": "rule", "strokeWidth": 1.5, "color": "#000"}, "encoding": {"y2": {"field": "v2"}}},
{"data": {"name": "esig"}, "transform": [{"filter": "datum.t == 'ns'"}], "mark": {"type": "text", "fontSize": 12, "color": "#1a1a1a", "baseline": "middle"}, "encoding": {"x": {"field": "g", "type": "nominal", "bandPosition": 1.27, "axis": null}, "text": {"field": "t"}}},
{"data": {"name": "esig"}, "transform": [{"filter": "datum.t != 'ns'"}], "mark": {"type": "text", "fontSize": 16, "fontWeight": "bold", "color": "#1a1a1a", "baseline": "middle"}, "encoding": {"x": {"field": "g", "type": "nominal", "bandPosition": 1.27, "axis": null}, "text": {"field": "t"}}},
{"data": {"name": "ebar"}, "mark": {"type": "text", "angle": 315, "align": "right", "baseline": "top", "dx": -5.3, "dy": 5.3, "fontSize": 10, "color": "#1a1a1a", "lineBreak": "|", "lineHeight": 11}, "encoding": {"y": {"value": "height"}, "text": {"field": "g"}}}
]
},
{
"width": 157, "height": 130,
"title": {"text": "F", "anchor": "start", "frame": "group", "dx": 1, "offset": 3.5, "fontSize": 14, "fontWeight": "bold"},
"encoding": {
"x": {"field": "g", "type": "nominal", "sort": null, "scale": {"domain": ["T", "CD123 CAR-T", "CD123 CAR-T+|BV28-OKT3"], "range": [40.7, 157], "paddingInner": 0.353, "paddingOuter": 0.35}, "axis": {"title": null, "labels": false, "domainColor": "#000", "domainWidth": 1.5, "tickColor": "#000", "tickWidth": 1.5, "tickSize": 5.5}},
"y": {"field": "v", "type": "quantitative", "scale": {"domain": [0, 60], "nice": false}, "axis": {"offset": -40.7, "title": "Specific lysis（%）", "values": [0, 20, 40, 60], "titleFontSize": 10, "titleFontWeight": "normal", "titleColor": "#1a1a1a", "titlePadding": 4, "labelFontSize": 10.5, "labelColor": "#1a1a1a", "labelPadding": 1.5, "domainColor": "#000", "domainWidth": 1.5, "tickColor": "#000", "tickWidth": 1.5, "tickSize": 4.5}}
},
"layer": [
{"data": {"name": "fbar"}, "mark": {"type": "bar"}, "encoding": {"color": {"field": "g", "type": "nominal", "scale": {"domain": ["T", "CD123 CAR-T", "CD123 CAR-T+|BV28-OKT3"], "range": ["#000000", "#0000ff", "#ff0000"]}, "legend": null}}},
{"data": {"name": "ferr"}, "mark": {"type": "rule", "strokeWidth": 1.5}, "encoding": {"y2": {"field": "lo"}, "stroke": {"field": "g", "type": "nominal", "scale": {"domain": ["T", "CD123 CAR-T", "CD123 CAR-T+|BV28-OKT3"], "range": ["#5a5a78", "#4848ff", "#ff4a4a"]}, "legend": null}}},
{"data": {"name": "ferr"}, "mark": {"type": "tick", "thickness": 1.5}, "encoding": {"size": {"value": 13}, "fill": {"field": "g", "type": "nominal", "scale": {"domain": ["T", "CD123 CAR-T", "CD123 CAR-T+|BV28-OKT3"], "range": ["#5a5a78", "#4848ff", "#ff4a4a"]}, "legend": null}}},
{"data": {"name": "fbrh"}, "mark": {"type": "rule", "strokeWidth": 1.5, "color": "#000"}, "encoding": {"x2": {"field": "g2"}}},
{"data": {"name": "fbrv"}, "mark": {"type": "rule", "strokeWidth": 1.5, "color": "#000"}, "encoding": {"y2": {"field": "v2"}}},
{"data": {"name": "fsig"}, "transform": [{"filter": "datum.t == 'ns'"}], "mark": {"type": "text", "fontSize": 12, "color": "#1a1a1a", "baseline": "middle"}, "encoding": {"x": {"field": "g", "type": "nominal", "bandPosition": 1.27, "axis": null}, "text": {"field": "t"}}},
{"data": {"name": "fsig"}, "transform": [{"filter": "datum.t != 'ns'"}], "mark": {"type": "text", "fontSize": 16, "fontWeight": "bold", "color": "#1a1a1a", "baseline": "middle"}, "encoding": {"x": {"field": "g", "type": "nominal", "bandPosition": 1.27, "axis": null}, "text": {"field": "t"}}},
{"data": {"name": "fbar"}, "mark": {"type": "text", "angle": 315, "align": "right", "baseline": "top", "dx": -5.3, "dy": 5.3, "fontSize": 10, "color": "#1a1a1a", "lineBreak": "|", "lineHeight": 11}, "encoding": {"y": {"value": "height"}, "text": {"field": "g"}}}
]
}
],
"spacing": 63.4, "bounds": "flush",
"resolve": {"scale": {"color": "independent", "size": "independent", "stroke": "independent", "fill": "independent", "shape": "independent"}}
}
],
"spacing": 0, "bounds": "full",
"resolve": {"scale": {"color": "independent", "size": "independent", "stroke": "independent", "fill": "independent", "shape": "independent"}}
}
],
"spacing": 7, "bounds": "full",
"resolve": {"scale": {"color": "independent", "size": "independent", "stroke": "independent", "fill": "independent", "shape": "independent"}}
}
